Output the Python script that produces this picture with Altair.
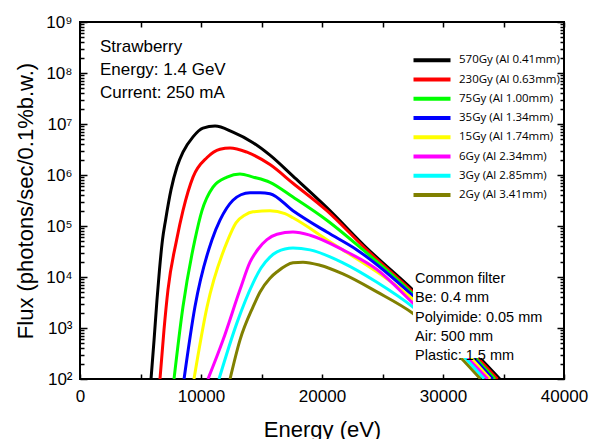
import altair as alt
import pandas as pd

# ---------------- data ----------------
series = ["570Gy (Al 0.41mm)", "230Gy (Al 0.63mm)", "75Gy (Al 1.00mm)", "35Gy (Al 1.34mm)",
          "15Gy (Al 1.74mm)", "6Gy (Al 2.34mm)", "3Gy (Al 2.85mm)", "2Gy (Al 3.41mm)"]
colors = ["#000000", "#ff0000", "#00ff00", "#0000ff", "#ffff00", "#ff00ff", "#00ffff", "#808000"]

e_570 = [5870, 6120, 6360, 6570, 6820, 7070, 7520, 8020, 8510, 9340, 10160, 11160, 12640, 14300, 15700, 17600, 20400, 23700, 27500, 34700]
f_570 = [1e2, 5.8e2, 3.5e3, 1.4e4, 5.4e4, 1.3e5, 5.1e5, 1.45e6, 2.8e6, 5.6e6, 8.3e6, 9.1e6, 6.9e6, 4.3e6, 2.45e6, 9.5e5, 2.3e5, 3.7e4, 5.6e3, 1e2]

e_230 = [6610, 6940, 7270, 7990, 8510, 9340, 10500, 11570, 12400, 13800, 15700, 17600, 20400, 23700, 27500, 34500]
f_230 = [1e2, 9.1e2, 5.6e3, 5.4e4, 2.0e5, 9.1e5, 2.2e6, 3.2e6, 3.4e6, 2.8e6, 1.6e6, 6.9e5, 2.0e5, 3.4e4, 5.1e3, 1e2]

e_75 = [7770, 8510, 9500, 10080, 10990, 12150, 13220, 14300, 15700, 17600, 20400, 23400, 27500, 34300]
f_75 = [1e2, 2.6e3, 5.4e4, 2.0e5, 5.8e5, 9.1e5, 1.05e6, 9.1e5, 7.2e5, 3.7e5, 1.3e5, 3.4e4, 4.7e3, 1e2]

e_35 = [8600, 9500, 10910, 11570, 12640, 13300, 14050, 14880, 15700, 17600, 20400, 22890, 27500, 34100]
f_35 = [1e2, 2.6e3, 5.4e4, 1.3e5, 3.2e5, 4.1e5, 4.5e5, 4.5e5, 4.3e5, 2.0e5, 7.6e4, 3.4e4, 4.3e3, 1e2]

e_15 = [9420, 10500, 12230, 12890, 13640, 14300, 15700, 16940, 17600, 20400, 27500, 33900]
f_15 = [1e2, 2.6e3, 5.4e4, 1.15e5, 1.65e5, 1.9e5, 2.0e5, 1.75e5, 1.45e5, 5.4e4, 3.7e3, 1e2]

e_6 = [10580, 11820, 13220, 14050, 14710, 15450, 16280, 17600, 19010, 21730, 24540, 27500, 33700]
f_6 = [1e2, 5.8e2, 5.6e3, 1.95e4, 3.5e4, 5.4e4, 6.9e4, 7.6e4, 6.6e4, 3.4e4, 1.4e4, 3.1e3, 1e2]

e_3 = [11490, 12970, 14300, 14960, 15700, 16280, 17600, 19010, 21730, 24540, 27500, 33400]
f_3 = [1e2, 1.26e3, 7.6e3, 1.5e4, 2.45e4, 3.1e4, 3.7e4, 3.4e4, 1.9e4, 7.9e3, 2.6e3, 1e2]

e_2 = [12400, 13220, 14300, 14880, 15700, 16280, 17600, 18430, 19830, 21730, 24540, 27500, 33100]
f_2 = [1e2, 5.8e2, 2.6e3, 5.1e3, 9.5e3, 1.26e4, 1.9e4, 1.95e4, 1.7e4, 1.15e4, 5.1e3, 1.95e3, 1e2]

energies = [e_570, e_230, e_75, e_35, e_15, e_6, e_3, e_2]
fluxes = [f_570, f_230, f_75, f_35, f_15, f_6, f_3, f_2]

x_ticks = [0, 10000, 20000, 30000, 40000]
x_minor = [0, 5000, 10000, 15000, 20000, 25000, 30000, 35000, 40000]
y_ticks = [1e2, 1e3, 1e4, 1e5, 1e6, 1e7, 1e8, 1e9]
y_minor = [m * 10 ** k for k in range(2, 9) for m in range(2, 10)]

info_text = ["Strawberry", "Energy: 1.4 GeV", "Current: 250 mA"]
filter_text = ["Common filter", "Be: 0.4 mm", "Polyimide: 0.05 mm", "Air: 500 mm", "Plastic: 1.5 mm"]

rows = []
for s, es, fs in zip(series, energies, fluxes):
    for e, f in zip(es, fs):
        rows.append({"series": s, "E": e, "F": f})
df = pd.DataFrame(rows)
legdf = pd.DataFrame({"series": series, "idx": list(range(len(series)))})
one = pd.DataFrame({"a": [0]})

# ---------------- chart ----------------
W, H = 484, 357
FONT = "Liberation Sans"
xs = alt.Scale(domain=[0, 40000], nice=False, zero=False)
ys = alt.Scale(type="log", domain=[1e2, 1e9], nice=False)
cs = alt.Scale(domain=series, range=colors)

sup = "['⁰','¹','²','³','⁴','⁵','⁶','⁷','⁸','⁹'][round(log(datum.value)/LN10)]"

x_main = alt.Axis(orient="bottom", values=x_ticks, format="d", ticks=False, tickSize=0, domain=False,
                  grid=False, labelFlush=False, labelOverlap=False,
                  labelFontSize=17, labelFont=FONT, labelColor="black", labelPadding=9,
                  title="Energy (eV)", titleFontSize=22, titleFont=FONT, titleFontWeight="normal",
                  titleColor="black", titleX=W / 2, titleY=57, titleBaseline="alphabetic",
                  titleAlign="center")
y_main = alt.Axis(orient="left", values=y_ticks, ticks=False, tickSize=0, domain=False, grid=False,
                  labelFlush=False, labelOverlap=False,
                  labelExpr="'10' + " + sup, labelFontSize=17, labelFont=FONT, labelColor="black",
                  labelPadding=8, title="Flux (photons/sec/0.1%b.w.)", titleFontSize=22,
                  titleFont=FONT, titleFontWeight="normal", titleColor="black", titleAngle=-90,
                  titleX=-48, titleY=H / 2, titleBaseline="alphabetic", titleAlign="center")


def tick_axis(orient, offset, values, size):
    return alt.Axis(orient=orient, offset=offset, values=values, tickSize=size, tickWidth=1.5,
                    tickColor="black", labels=False, domain=False, grid=False, title=None, zindex=2)


lines = alt.Chart(df).mark_line(strokeWidth=3, clip=True, interpolate="monotone").encode(
    x=alt.X("E:Q", scale=xs, axis=x_main),
    y=alt.Y("F:Q", scale=ys, axis=y_main),
    color=alt.Color("series:N", scale=cs, legend=None),
)

base = alt.Chart(df).mark_line(opacity=0)
ax2 = base.encode(x=alt.X("E:Q", scale=xs, axis=tick_axis("top", -H, x_minor, 5)),
                  y=alt.Y("F:Q", scale=ys, axis=tick_axis("right", -W, y_ticks, 7)))
ax3 = base.encode(x=alt.X("E:Q", scale=xs, axis=tick_axis("bottom", -H, x_minor, 5)),
                  y=alt.Y("F:Q", scale=ys, axis=tick_axis("right", -W, y_minor, 4)))
ax4 = base.encode(x=alt.X("E:Q", scale=xs, axis=None),
                  y=alt.Y("F:Q", scale=ys, axis=tick_axis("left", -W, y_ticks, 7)))
ax5 = base.encode(x=alt.X("E:Q", scale=xs, axis=None),
                  y=alt.Y("F:Q", scale=ys, axis=tick_axis("left", -W, y_minor, 4)))

box = alt.Chart(one).mark_rect(color="white").encode(
    x=alt.value(333), x2=alt.value(477), y=alt.value(246), y2=alt.value(336))

filt = alt.Chart(one).mark_text(text="\n".join(filter_text), lineBreak="\n", lineHeight=19.3,
                                align="left", baseline="middle", fontSize=14.5, font=FONT,
                                color="black").encode(x=alt.value(335), y=alt.value(257))

info = alt.Chart(one).mark_text(text="\n".join(info_text), lineBreak="\n", lineHeight=23,
                                align="left", baseline="middle", fontSize=17, font=FONT,
                                color="black").encode(x=alt.value(20), y=alt.value(25))

leg = alt.Chart(legdf).transform_calculate(ly="38.3 + 19.24 * datum.idx")
leg_rules = leg.mark_rule(strokeWidth=4).encode(
    x=alt.value(333.5), x2=alt.value(370.5),
    y=alt.Y("ly:Q", scale=None, axis=None),
    color=alt.Color("series:N", scale=cs, legend=None),
)
leg_text = leg.mark_text(align="left", baseline="middle", fontSize=11.5, font="Open Sans",
                         color="black").encode(
    x=alt.value(379), y=alt.Y("ly:Q", scale=None, axis=None), text="series:N")

chart = alt.layer(lines, box, filt, info, leg_rules, leg_text, ax2, ax3, ax4, ax5).resolve_axis(
    x="independent", y="independent"
).properties(
    width=W, height=H,
    autosize=alt.AutoSizeParams(type="none"),
    padding={"left": 80, "top": 22, "right": 37, "bottom": 60},
    background="white",
).configure_view(stroke="black", strokeWidth=2)

chart.save("out.html", embed_options={"renderer": "svg", "actions": False})
